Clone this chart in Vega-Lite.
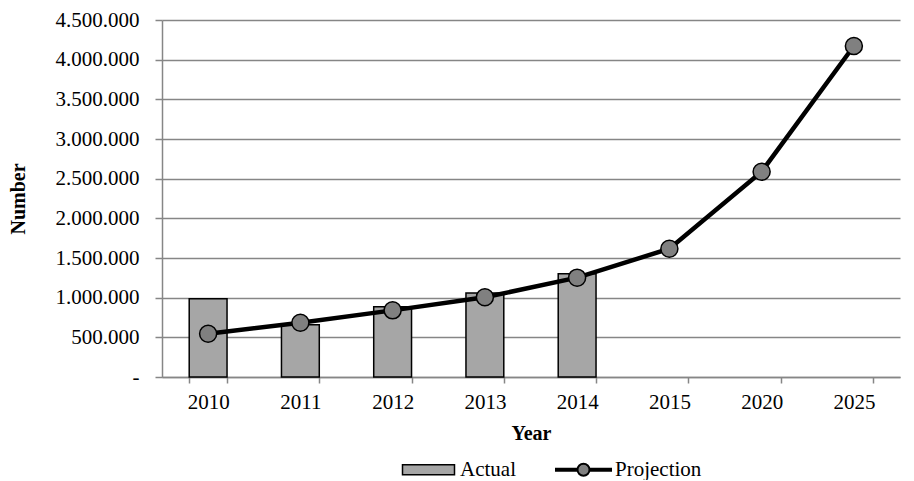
{
  "$schema": "https://vega.github.io/schema/vega-lite/v6.json",
  "width": 738,
  "height": 357,
  "padding": {"left": 8, "top": 9, "right": 16, "bottom": 0},
  "background": "white",
  "config": {
    "locale": {"number": {"decimal": ",", "thousands": ".", "grouping": [3], "currency": ["", ""]}},
    "font": "Liberation Serif",
    "view": {"stroke": null},
    "axis": {
      "labelFont": "Liberation Serif",
      "titleFont": "Liberation Serif",
      "labelFontSize": 21,
      "titleFontSize": 20,
      "labelColor": "black",
      "titleColor": "black",
      "domainColor": "#868686",
      "tickColor": "#868686",
      "gridColor": "#868686",
      "domainWidth": 1.5,
      "tickWidth": 1.5,
      "gridWidth": 1.5
    },
    "legend": {
      "labelFont": "Liberation Serif",
      "labelFontSize": 21,
      "labelColor": "black",
      "layout": {"bottom": {"anchor": "middle"}}
    }
  },
  "datasets": {
    "actual": [
      {"year": "2010", "value": 987000},
      {"year": "2011", "value": 660000},
      {"year": "2012", "value": 886000},
      {"year": "2013", "value": 1059000},
      {"year": "2014", "value": 1302000}
    ],
    "projection": [
      {"year": "2010", "value": 546000},
      {"year": "2011", "value": 684000},
      {"year": "2012", "value": 840000},
      {"year": "2013", "value": 1005000},
      {"year": "2014", "value": 1252000},
      {"year": "2015", "value": 1617000},
      {"year": "2020", "value": 2588000},
      {"year": "2025", "value": 4172000}
    ]
  },
  "encoding": {
    "x": {
      "field": "year",
      "type": "ordinal",
      "sort": ["2010", "2011", "2012", "2013", "2014", "2015", "2020", "2025"],
      "scale": {
        "domain": ["2010", "2011", "2012", "2013", "2014", "2015", "2020", "2025"],
        "paddingInner": 0.59,
        "paddingOuter": 0.295
      },
      "axis": {
        "title": "Year",
        "titleFont": "Liberation Serif",
        "titleFontWeight": "bold",
        "titlePadding": 11,
        "labelFont": "Liberation Serif",
        "labelFontSize": 21,
        "labelAngle": 0,
        "labelPadding": 8,
        "tickBand": "extent",
        "tickSize": 6,
        "grid": false
      }
    },
    "y": {
      "field": "value",
      "type": "quantitative",
      "scale": {"domain": [0, 4500000], "nice": false},
      "axis": {
        "title": "Number",
        "titleFont": "Liberation Serif",
        "titleFontWeight": "bold",
        "titlePadding": 27,
        "labelFont": "Liberation Serif",
        "labelFontSize": 21,
        "values": [0, 500000, 1000000, 1500000, 2000000, 2500000, 3000000, 3500000, 4000000, 4500000],
        "format": ",.0f",
        "labelExpr": "datum.value === 0 ? '-' : datum.label",
        "labelPadding": 16,
        "tickSize": 7,
        "grid": true,
        "encode": {
          "labels": {
            "update": {
              "dx": {"signal": "datum.value === 0 ? -11 : 0"}
            }
          }
        }
      }
    }
  },
  "layer": [
    {
      "data": {"name": "actual"},
      "mark": {"type": "bar", "stroke": "black", "strokeWidth": 1.5},
      "encoding": {
        "fill": {
          "datum": "Actual",
          "type": "nominal",
          "scale": {"domain": ["Actual", "Projection"], "range": ["#a6a6a6", "#808080"]},
          "legend": {
            "title": null,
            "orient": "bottom",
            "direction": "horizontal",
            "labelFont": "Liberation Serif",
            "labelFontSize": 21,
            "labelColor": "black",
            "symbolSize": 100,
            "symbolOffset": 57,
            "symbolStrokeColor": "black",
            "symbolStrokeWidth": 1.5,
            "labelOffset": 21,
            "columnPadding": -4,
            "offset": 16,
            "encode": {
              "symbols": {
                "update": {
                  "shape": {"signal": "datum.label === 'Actual' ? 'M-5.2,-1H5.2V1H-5.2Z' : 'M-5.5,-0.2H-1.2V0.2H-5.5ZM1.2,-0.2H5.5V0.2H1.2ZM-1.2,0A1.2,1.2,0,1,0,1.2,0A1.2,1.2,0,1,0,-1.2,0Z'"},
                  "strokeWidth": {"signal": "datum.label === 'Actual' ? 1.5 : 2"}
                }
              }
            }
          }
        }
      }
    },
    {
      "data": {"name": "projection"},
      "mark": {"type": "line", "color": "black", "strokeWidth": 4.5},
      "encoding": {}
    },
    {
      "data": {"name": "projection"},
      "mark": {"type": "point", "filled": true, "stroke": "black", "strokeWidth": 1.5, "size": 290, "opacity": 1},
      "encoding": {
        "fill": {"datum": "Projection", "type": "nominal"}
      }
    }
  ]
}
